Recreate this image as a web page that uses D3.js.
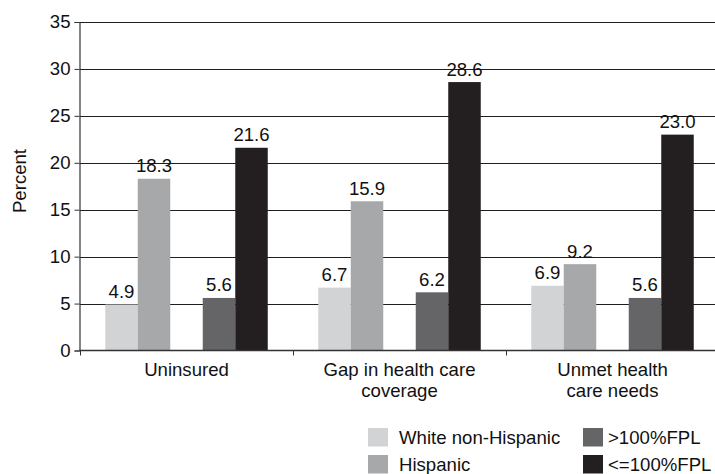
<!DOCTYPE html>
<html lang="en">
<head>
<meta charset="utf-8">
<script src="https://d3js.org/d3.v7.min.js"></script>
<style>
  body { margin: 0; background: #fff; }
  svg { font-family: "Liberation Sans", Arial, sans-serif; }
</style>
</head>
<body>
<svg width="715" height="474"></svg>
<script>

// data
var categories = [["Uninsured"], ["Gap in health care", "coverage"], ["Unmet health", "care needs"]];
var series = ["White non-Hispanic", "Hispanic", ">100%FPL", "<=100%FPL"];
var white = [4.9, 6.7, 6.9];
var hispanic = [18.3, 15.9, 9.2];
var above100 = [5.6, 6.2, 5.6];
var below100 = [21.6, 28.6, 23.0];
var yTicks = [0, 5, 10, 15, 20, 25, 30, 35];
var colors = ["#d2d3d5", "#a7a8aa", "#656567", "#231f20"];

var values = [white, hispanic, above100, below100];
var catNames = categories.map(function(c) { return c.join(" "); });
var fs = 18.6;

var svg = d3.select("svg");

var x0 = d3.scaleBand()
    .domain(catNames)
    .range([80, 80 + 3 * 213]);

// empty slot between the race bars and the poverty bars
var slots = [series[0], series[1], "gap", series[2], series[3]];
var x1 = d3.scaleBand()
    .domain(slots)
    .range([0, x0.bandwidth()])
    .paddingOuter(0.777);

var y = d3.scaleLinear()
    .domain([0, 35])
    .range([350.5, 22]);

var color = d3.scaleOrdinal().domain(series).range(colors);

// gridlines
svg.append("g")
  .selectAll("line")
  .data(yTicks.filter(function(d) { return d > 0; }))
  .join("line")
    .attr("x1", 80).attr("x2", 715)
    .attr("y1", function(d) { return Math.round(y(d)) + 0.5; })
    .attr("y2", function(d) { return Math.round(y(d)) + 0.5; })
    .attr("stroke", "#1e1e1e")
    .attr("stroke-width", 1.1);

// bars
var rows = [];
catNames.forEach(function(c, i) {
  series.forEach(function(s, j) {
    rows.push({cat: c, series: s, value: values[j][i]});
  });
});

svg.append("g")
  .selectAll("rect")
  .data(rows)
  .join("rect")
    .attr("x", function(d) { return x0(d.cat) + x1(d.series); })
    .attr("y", function(d) { return y(d.value); })
    .attr("width", x1.bandwidth())
    .attr("height", function(d) { return y(0) - y(d.value); })
    .attr("fill", function(d) { return color(d.series); });

svg.append("g")
  .selectAll("text")
  .data(rows)
  .join("text")
    .attr("x", function(d) { return x0(d.cat) + x1(d.series) + x1.bandwidth() / 2; })
    .attr("y", function(d) { return y(d.value) - 6.5; })
    .attr("text-anchor", "middle")
    .attr("font-size", fs)
    .attr("fill", "#111")
    .text(function(d) { return d.value.toFixed(1); });

// y axis
var yAxis = svg.append("g")
    .attr("transform", "translate(79.5,0)")
    .call(d3.axisLeft(y).tickValues(yTicks).tickSize(5).tickPadding(4));
yAxis.select(".domain").attr("stroke", "#333").attr("stroke-width", 1.2);
yAxis.selectAll(".tick line").attr("stroke", "#333");
yAxis.selectAll("text")
    .attr("font-size", fs)
    .attr("font-family", "Liberation Sans, Arial, sans-serif")
    .attr("fill", "#111");

// x axis
var xAxis = svg.append("g")
    .attr("transform", "translate(0,350.5)");
xAxis.append("line")
    .attr("x1", 79.5).attr("x2", 715)
    .attr("stroke", "#333").attr("stroke-width", 1.3);
xAxis.selectAll(".ctick")
  .data([80].concat(catNames.map(function(c) { return x0(c) + x0.bandwidth(); })))
  .join("line")
    .attr("class", "ctick")
    .attr("x1", function(d) { return Math.round(d) + 0.5; })
    .attr("x2", function(d) { return Math.round(d) + 0.5; })
    .attr("y1", 0).attr("y2", 5)
    .attr("stroke", "#333");

var catLabel = svg.append("g")
  .selectAll("text")
  .data(categories)
  .join("text")
    .attr("text-anchor", "middle")
    .attr("font-size", fs)
    .attr("fill", "#111")
    .attr("transform", function(d, i) {
      return "translate(" + (x0(catNames[i]) + x0.bandwidth() / 2) + ",376)";
    });
catLabel.selectAll("tspan")
  .data(function(d) { return d; })
  .join("tspan")
    .attr("x", 0)
    .attr("dy", function(d, i) { return i === 0 ? 0 : 20.5; })
    .text(function(d) { return d; });

svg.append("text")
    .attr("transform", "translate(26,181) rotate(-90)")
    .attr("text-anchor", "middle")
    .attr("font-size", fs)
    .attr("fill", "#111")
    .text("Percent");

// legend
var legendPos = [[368, 428, 31], [368, 455, 31], [583, 428, 25], [583, 455, 25]];
var legend = svg.append("g")
  .selectAll("g")
  .data(series)
  .join("g")
    .attr("transform", function(d, i) { return "translate(" + legendPos[i][0] + "," + legendPos[i][1] + ")"; });
legend.append("rect")
    .attr("width", 20).attr("height", 18.5)
    .attr("fill", function(d) { return color(d); });
legend.append("text")
    .attr("x", function(d, i) { return legendPos[i][2]; })
    .attr("y", 15.5)
    .attr("font-size", fs)
    .attr("fill", "#111")
    .text(function(d) { return d; });

</script>
</body>
</html>
